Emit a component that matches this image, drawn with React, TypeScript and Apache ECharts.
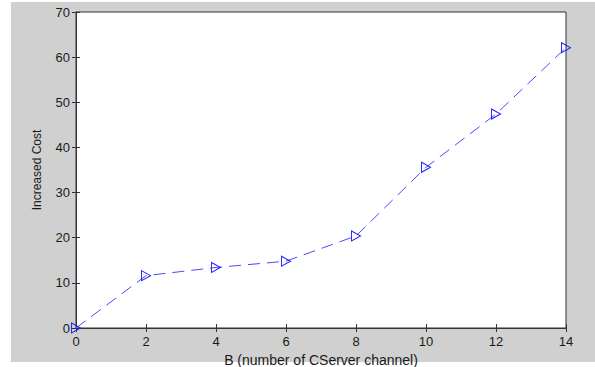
import React, { useEffect, useRef } from "react";
import * as echarts from "echarts";

const xValues = [0, 2, 4, 6, 8, 10, 12, 14];
const costValues = [0, 11.6, 13.4, 14.8, 20.4, 35.6, 47.4, 62.1];
const xTicks = [0, 2, 4, 6, 8, 10, 12, 14];
const yTicks = [0, 10, 20, 30, 40, 50, 60, 70];

export default function App() {
  const ref = useRef<HTMLDivElement>(null);
  useEffect(() => {
    if (!ref.current) return;
    const chart = echarts.init(ref.current, undefined, { renderer: "svg" });
    const font = "Liberation Sans, Arial, sans-serif";
    const axisCommon = {
      axisLine: { show: true, lineStyle: { color: "#333", width: 1 } },
      axisTick: { show: true, inside: true, length: 4, lineStyle: { color: "#333" } },
      splitLine: { show: false },
    };
    chart.setOption({
      animation: false,
      backgroundColor: "#ffffff",
      graphic: [
        {
          type: "rect",
          z: -10,
          silent: true,
          shape: { x: 11, y: 2, width: 584, height: 360 },
          style: { fill: "#d0d0d0" },
        },
      ],
      grid: {
        left: 76,
        top: 12,
        width: 490,
        height: 316,
        containLabel: false,
        outerBoundsMode: "none",
        show: true,
        backgroundColor: "#ffffff",
        borderColor: "#333",
        borderWidth: 1,
        z: 0,
      },
      xAxis: [
        {
          type: "value",
          min: 0,
          max: 14,
          interval: 2,
          position: "bottom",
          name: "B (number of CServer channel)",
          nameLocation: "middle",
          nameGap: 19,
          nameTextStyle: { fontFamily: font, fontSize: 14, color: "#1a1a1a" },
          axisLabel: {
            fontFamily: font,
            fontSize: 13,
            color: "#1a1a1a",
            margin: 7,
            formatter: (v: number) => (xTicks.includes(v) ? String(v) : ""),
          },
          ...axisCommon,
        },
        {
          type: "value",
          min: 0,
          max: 14,
          interval: 2,
          position: "top",
          axisLabel: { show: false },
          ...axisCommon,
        },
      ],
      yAxis: [
        {
          type: "value",
          min: 0,
          max: 70,
          interval: 10,
          position: "left",
          name: "Increased Cost",
          nameLocation: "middle",
          nameGap: 33,
          nameRotate: 90,
          nameTextStyle: { fontFamily: font, fontSize: 12, color: "#1a1a1a" },
          axisLabel: {
            fontFamily: font,
            fontSize: 13,
            color: "#1a1a1a",
            margin: 6,
            formatter: (v: number) => (yTicks.includes(v) ? String(v) : ""),
          },
          ...axisCommon,
        },
        {
          type: "value",
          min: 0,
          max: 70,
          interval: 10,
          position: "right",
          axisLabel: { show: false },
          ...axisCommon,
        },
      ],
      series: [
        {
          type: "line",
          xAxisIndex: 0,
          yAxisIndex: 0,
          data: xValues.map((x, i) => [x, costValues[i]]),
          clip: false,
          symbol: "path://M0,0 L9,5 L0,10 Z",
          symbolSize: [9, 10],
          itemStyle: { color: "rgba(255,255,255,0)", borderColor: "#2020ff", borderWidth: 1 },
          lineStyle: { color: "#4a4aff", width: 1, type: [12, 7] },
          z: 5,
        },
      ],
    });
    return () => chart.dispose();
  }, []);
  return (
    <div
      ref={ref}
      style={{ position: "absolute", left: 0, top: 0, width: 595, height: 367 }}
    />
  );
}
